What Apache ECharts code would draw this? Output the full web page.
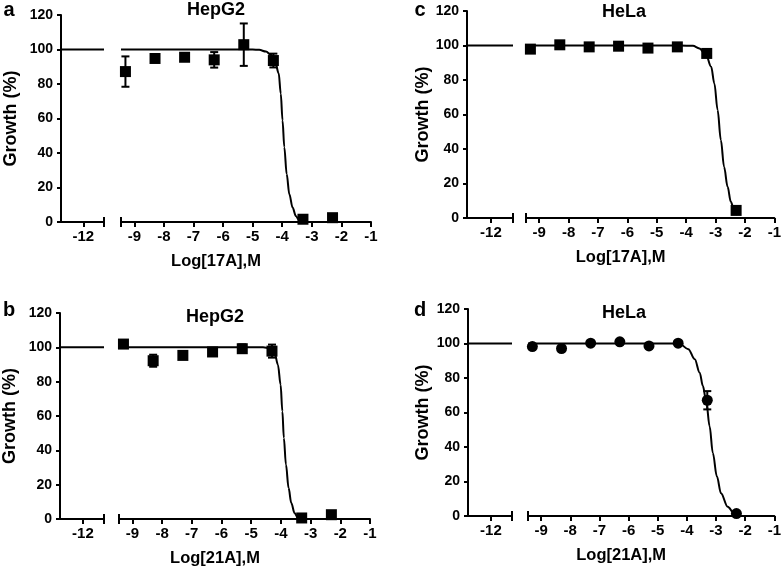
<!DOCTYPE html>
<html><head><meta charset="utf-8">
<script src="https://cdn.jsdelivr.net/npm/echarts@6/dist/echarts.min.js"></script>
<style>html,body{margin:0;padding:0;background:#fff}#c{width:784px;height:570px}</style>
</head><body><div id="c"></div>
<script>
// ---------- data ----------
const doseLogM = [-9.3, -8.3, -7.3, -6.3, -5.3, -4.3, -3.3, -2.3];
const xTickValues = [-9, -8, -7, -6, -5, -4, -3, -2, -1];
const xTickValuesLeft = [-12];
const leftSegment = [-12.78, -11.28];
const rightSegment = [-9.45, -1];
const controlGrowth = 100;
const yMin = 0, yMax = 120, yStep = 20;

// a: HepG2 / 17A
const hep17Mean = [87.2, 94.8, 95.5, 94.0, 102.8, 93.6, 1.6, 2.5];
const hep17Sem  = [8.8, 2.0, 2.0, 4.5, 12.3, 4.0, 0.5, 0.5];
const hep17FitX = [-9.45, -5.0, -4.78, -4.55, -4.38, -4.24, -4.12, -4.05, -3.99, -3.93, -3.85, -3.76, -3.65, -3.54, -3.43, -3.3];
const hep17FitY = [100, 100, 99.8, 98.8, 96.9, 93.0, 86.2, 74.5, 58.9, 43.4, 27.8, 16.1, 8.4, 3.5, 1.0, 0.2];

// b: HepG2 / 21A
const hep21Mean = [101.9, 92.2, 95.3, 97.3, 99.2, 97.8, 0.6, 2.5];
const hep21Sem  = [2.0, 3.5, 1.0, 1.5, 2.5, 3.8, 0.5, 0.5];
const hep21FitX = [-9.45, -4.6, -4.38, -4.21, -4.1, -4.01, -3.95, -3.9, -3.83, -3.74, -3.65, -3.54, -3.43, -3.3];
const hep21FitY = [100, 100, 99.5, 96.7, 89.9, 78.3, 62.7, 47.2, 31.7, 18.0, 9.3, 3.5, 0.6, 0.1];

// c: HeLa / 17A
const hela17Mean = [97.9, 100.4, 99.2, 99.6, 98.5, 99.2, 95.4, 4.4];
const hela17Sem  = [1, 1, 1, 1, 1, 1, 1, 1];
const hela17FitX = [-9.45, -4.2, -3.77, -3.55, -3.32, -3.15, -3.04, -2.93, -2.82, -2.71, -2.59, -2.48, -2.37, -2.26];
const hela17FitY = [100, 100, 99.8, 98.3, 94.4, 87.7, 78.0, 62.6, 45.2, 29.7, 18.1, 9.4, 4.6, 1.7];

// d: HeLa / 21A
const hela21Mean = [98.2, 97.1, 100.2, 101.0, 98.6, 100.2, 67.1, 1.4];
const hela21Sem  = [0.5, 0.5, 0.5, 0.5, 0.5, 0.5, 5.3, 0.5];
const hela21FitX = [-9.45, -4.5, -4.24, -3.95, -3.73, -3.56, -3.45, -3.33, -3.22, -3.11, -2.97, -2.83, -2.6, -2.38, -2.25];
const hela21FitY = [100, 100, 99.7, 96.7, 90.9, 83.1, 75.3, 65.6, 52.0, 36.5, 22.9, 13.2, 5.4, 1.6, 0.8];

const panelLetters = ['a', 'b', 'c', 'd'];
const panelTitles = ['HepG2', 'HepG2', 'HeLa', 'HeLa'];
const panelXNames = ['Log[17A],M', 'Log[21A],M', 'Log[17A],M', 'Log[21A],M'];
const yName = 'Growth (%)';

// ---------- layout / style ----------
const FONT = '"Liberation Sans", Arial, Helvetica, sans-serif';
const INK = '#000';
const panels = [
  {mean: hep17Mean, sem: hep17Sem, fx: hep17FitX, fy: hep17FitY, symbol: 'rect',
   yAxisX: 61, top: 15, bottom: 222, leftEnd: 104, rightStart: 121, rightEnd: 371,
   titleX: 216, titleY: 10, letterX: 9, letterY: 10, yNameGap: 41},
  {mean: hep21Mean, sem: hep21Sem, fx: hep21FitX, fy: hep21FitY, symbol: 'rect',
   yAxisX: 60, top: 313, bottom: 519, leftEnd: 104, rightStart: 119, rightEnd: 370,
   titleX: 215, titleY: 317, letterX: 9, letterY: 310, yNameGap: 41},
  {mean: hela17Mean, sem: hela17Sem, fx: hela17FitX, fy: hela17FitY, symbol: 'rect',
   yAxisX: 467, top: 11, bottom: 218, leftEnd: 513, rightStart: 526, rightEnd: 778,
   titleX: 624, titleY: 12, letterX: 420, letterY: 10, yNameGap: 35},
  {mean: hela21Mean, sem: hela21Sem, fx: hela21FitX, fy: hela21FitY, symbol: 'circle',
   yAxisX: 468, top: 309, bottom: 516, leftEnd: 512, rightStart: 528, rightEnd: 779,
   titleX: 624, titleY: 313, letterX: 420, letterY: 310, yNameGap: 36}
];

const grids = [], xAxes = [], yAxes = [], series = [], graphics = [];
const lineStyle = {color: INK, width: 2};

function errRender(params, api) {
  const x = api.value(0), lo = api.value(1), hi = api.value(2);
  const t = api.coord([x, hi]), b = api.coord([x, lo]);
  const w = 4;
  const st = {stroke: INK, lineWidth: 2};
  return {type: 'group', children: [
    {type: 'line', shape: {x1: t[0], y1: t[1], x2: b[0], y2: b[1]}, style: st},
    {type: 'line', shape: {x1: t[0] - w, y1: t[1], x2: t[0] + w, y2: t[1]}, style: st},
    {type: 'line', shape: {x1: b[0] - w, y1: b[1], x2: b[0] + w, y2: b[1]}, style: st}
  ]};
}
function breakRender(params, api) {
  const p = api.coord([api.value(0), yMin]);
  return {type: 'line', shape: {x1: p[0], y1: p[1] - 5, x2: p[0], y2: p[1] + 5},
          style: {stroke: INK, lineWidth: 2}};
}

panels.forEach((p, i) => {
  const gL = grids.length, gR = gL + 1;
  const h = p.bottom - p.top;
  grids.push({left: p.yAxisX, top: p.top, width: p.leftEnd - p.yAxisX, height: h});
  grids.push({left: p.rightStart, top: p.top, width: p.rightEnd - p.rightStart, height: h});
  const axisLabelX = {fontSize: 15, fontWeight: 'bold', color: INK, fontFamily: FONT, margin: 7};
  xAxes.push({gridIndex: gL, type: 'value', min: leftSegment[0], max: leftSegment[1],
    axisLine: {show: true, onZero: false, lineStyle},
    axisTick: {show: true, length: 5, lineStyle, customValues: xTickValuesLeft},
    axisLabel: Object.assign({customValues: xTickValuesLeft}, axisLabelX),
    splitLine: {show: false}});
  const shift = ((p.rightStart + p.rightEnd) / 2 - (p.yAxisX + p.rightEnd) / 2);
  xAxes.push({gridIndex: gR, type: 'value', min: rightSegment[0], max: rightSegment[1],
    axisLine: {show: true, onZero: false, lineStyle},
    axisTick: {show: true, length: 5, lineStyle, customValues: xTickValues},
    axisLabel: Object.assign({customValues: xTickValues}, axisLabelX),
    splitLine: {show: false},
    name: panelXNames[i], nameLocation: 'middle', nameGap: 31,
    nameTextStyle: {fontSize: 16.5, fontWeight: 'bold', color: INK, fontFamily: FONT,
      padding: [0, 2 * shift, 0, 0]}});
  yAxes.push({gridIndex: gL, type: 'value', min: yMin, max: yMax, interval: yStep,
    axisLine: {show: true, onZero: false, lineStyle},
    axisTick: {show: true, length: 4, lineStyle},
    axisLabel: {fontSize: 14, fontWeight: 'bold', color: INK, fontFamily: FONT, margin: 8},
    splitLine: {show: false},
    name: yName, nameLocation: 'middle', nameRotate: 90, nameGap: p.yNameGap,
    nameTextStyle: {fontSize: 18, fontWeight: 'bold', color: INK, fontFamily: FONT}});
  yAxes.push({gridIndex: gR, type: 'value', min: yMin, max: yMax, interval: yStep, show: false});

  series.push({type: 'line', xAxisIndex: gL, yAxisIndex: gL, showSymbol: false, silent: true,
    data: leftSegment.map(x => [x, controlGrowth]), lineStyle});
  series.push({type: 'line', xAxisIndex: gR, yAxisIndex: gR, showSymbol: false, silent: true,
    smooth: 0.35, smoothMonotone: 'x',
    data: p.fx.map((x, k) => [x, p.fy[k]]), lineStyle, z: 2});
  series.push({type: 'custom', xAxisIndex: gR, yAxisIndex: gR, renderItem: errRender, clip: false, z: 3,
    encode: {x: 0, y: [1, 2]},
    data: doseLogM.map((x, k) => [x, p.mean[k] - p.sem[k], p.mean[k] + p.sem[k]])});
  series.push({type: 'scatter', xAxisIndex: gR, yAxisIndex: gR, symbol: p.symbol,
    symbolSize: 11, itemStyle: {color: INK, opacity: 1}, z: 4,
    data: doseLogM.map((x, k) => [x, p.mean[k]])});
  series.push({type: 'custom', xAxisIndex: gL, yAxisIndex: gL, renderItem: breakRender, clip: false, z: 5,
    data: [[leftSegment[1]]]});
  series.push({type: 'custom', xAxisIndex: gR, yAxisIndex: gR, renderItem: breakRender, clip: false, z: 5,
    data: [[rightSegment[0]]]});

  graphics.push({type: 'text', x: p.titleX, y: p.titleY,
    style: {text: panelTitles[i], fill: INK, font: 'bold 18px ' + FONT, textAlign: 'center', textVerticalAlign: 'middle'}});
  graphics.push({type: 'text', x: p.letterX, y: p.letterY,
    style: {text: panelLetters[i], fill: INK, font: 'bold 20px ' + FONT, textAlign: 'center', textVerticalAlign: 'middle'}});
});

const chart = echarts.init(document.getElementById('c'), null, {renderer: 'canvas'});
chart.setOption({
  animation: false,
  backgroundColor: '#fff',
  grid: grids, xAxis: xAxes, yAxis: yAxes, series, graphic: graphics
});
</script></body></html>
